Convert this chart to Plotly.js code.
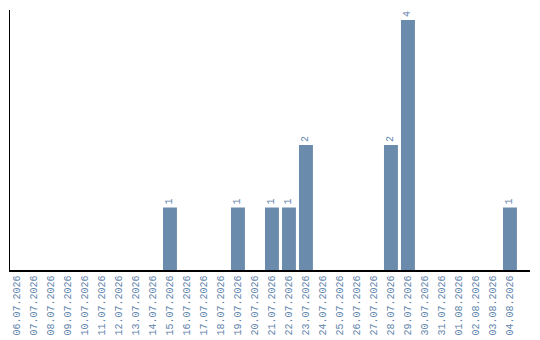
<!DOCTYPE html>
<html>
<head>
<meta charset="utf-8">
<script src="https://cdn.plot.ly/plotly-3.0.1.min.js"></script>
<style>
  html, body { margin: 0; padding: 0; background: #fff; }
  #chart { width: 540px; height: 340px; }
</style>
</head>
<body>
<div id="chart"></div>
<script>
// Daily counts, 06.07.2026 – 04.08.2026
var days = [
  "06.07.2026", "07.07.2026", "08.07.2026", "09.07.2026", "10.07.2026",
  "11.07.2026", "12.07.2026", "13.07.2026", "14.07.2026", "15.07.2026",
  "16.07.2026", "17.07.2026", "18.07.2026", "19.07.2026", "20.07.2026",
  "21.07.2026", "22.07.2026", "23.07.2026", "24.07.2026", "25.07.2026",
  "26.07.2026", "27.07.2026", "28.07.2026", "29.07.2026", "30.07.2026",
  "31.07.2026", "01.08.2026", "02.08.2026", "03.08.2026", "04.08.2026"
];
var counts = [
  0, 0, 0, 0, 0,
  0, 0, 0, 0, 1,
  0, 0, 0, 1, 0,
  1, 1, 2, 0, 0,
  0, 0, 2, 4, 0,
  0, 0, 0, 0, 1
];

var barColor = "#6a8bab";
var labelColor = "#5f84ab";
var monoFont = "Liberation Mono, DejaVu Sans Mono, monospace";

var labels = counts.map(function (v) { return v > 0 ? String(v) : ""; });

var trace = {
  type: "bar",
  x: days,
  y: counts,
  text: labels,
  texttemplate: "%{text}",
  textposition: "outside",
  textangle: -90,
  cliponaxis: false,
  outsidetextfont: { family: monoFont, size: 10, color: labelColor },
  marker: { color: barColor },
  hoverinfo: "none"
};

var layout = {
  width: 540,
  height: 340,
  margin: { l: 10, r: 10, t: 10, b: 70 },
  paper_bgcolor: "#ffffff",
  plot_bgcolor: "#ffffff",
  bargap: 0.18,
  showlegend: false,
  xaxis: {
    type: "category",
    range: [-0.41, 30.18],
    tickangle: -90,
    tickfont: { family: monoFont, size: 10, color: labelColor },
    showline: true,
    linecolor: "#000000",
    linewidth: 1.5,
    ticks: "",
    showgrid: false,
    zeroline: false,
    automargin: false
  },
  yaxis: {
    range: [0, 4.16],
    showline: true,
    linecolor: "#000000",
    linewidth: 1.5,
    showticklabels: false,
    ticks: "",
    showgrid: false,
    zeroline: false
  }
};

Plotly.newPlot("chart", [trace], layout, { displayModeBar: false, staticPlot: true });
</script>
</body>
</html>
